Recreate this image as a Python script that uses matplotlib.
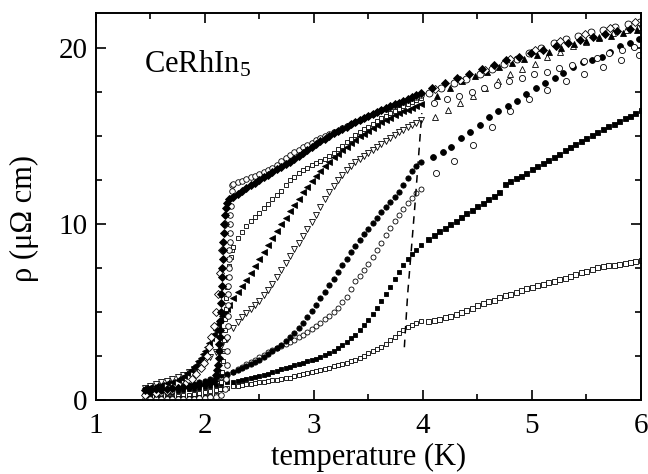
import matplotlib
matplotlib.use("Agg")
import matplotlib.pyplot as plt
from matplotlib.ticker import MultipleLocator

plt.rcParams["font.family"] = ["Liberation Serif", "DejaVu Serif"]
plt.rcParams["mathtext.default"] = "regular"

# shared temperature readings (K)
t_low = [1.45, 1.5, 1.55, 1.6, 1.65, 1.7, 1.75, 1.8, 1.85, 1.9, 1.95, 2.0, 2.05, 2.1, 2.15, 2.2]
t_mid = [2.26, 2.30, 2.34, 2.38, 2.42, 2.46, 2.50, 2.54, 2.58, 2.62, 2.66, 2.70, 2.74, 2.78, 2.82,
         2.86, 2.90, 2.94, 2.98, 3.02, 3.06, 3.10, 3.14, 3.18, 3.22, 3.26, 3.30, 3.34, 3.38, 3.42,
         3.46, 3.50, 3.54, 3.58, 3.62, 3.66, 3.70, 3.74, 3.78, 3.82, 3.86, 3.90, 3.94, 3.98]
t_hi = [4.05, 4.1, 4.15, 4.2, 4.25, 4.3, 4.35, 4.4, 4.45, 4.5, 4.55, 4.6, 4.65, 4.7, 4.75,
        4.8, 4.85, 4.9, 4.95, 5.0, 5.05, 5.1, 5.15, 5.2, 5.25, 5.3, 5.35, 5.4, 5.45, 5.5,
        5.55, 5.6, 5.65, 5.7, 5.75, 5.8, 5.85, 5.9, 5.95, 6.0]

# filled diamonds
r_fd_low = [0.55, 0.57, 0.6, 0.62, 0.65, 0.67, 0.7, 0.72, 0.75, 0.8, 0.85, 0.9, 0.95]
t_fd_jump = [2.08, 2.1, 2.11, 2.12, 2.125, 2.13, 2.133, 2.136, 2.139, 2.142, 2.145, 2.148, 2.151,
             2.154, 2.157, 2.16, 2.163, 2.166, 2.169, 2.172, 2.175, 2.18, 2.19, 2.2, 2.22]
r_fd_jump = [1.1, 1.4, 1.7, 2.0, 2.4, 2.8, 3.2, 3.6, 4.0, 4.5, 5.0, 5.5, 6.0,
             6.5, 7.0, 7.5, 8.0, 8.5, 9.0, 9.5, 10.0, 10.5, 10.9, 11.2, 11.4]
r_fd_mid = [11.55, 11.72, 11.88, 12.04, 12.2, 12.35, 12.5, 12.65, 12.8, 12.95, 13.1, 13.25, 13.4, 13.55, 13.7,
            13.87, 14.04, 14.21, 14.38, 14.55, 14.7, 14.85, 15.0, 15.15, 15.3, 15.42, 15.54, 15.66, 15.78, 15.9,
            16.02, 16.14, 16.26, 16.38, 16.5, 16.6, 16.7, 16.8, 16.9, 17.0, 17.11, 17.22, 17.33, 17.45]
t_fd_hi = [4.08, 4.2, 4.31, 4.42, 4.54, 4.65, 4.76, 4.88, 4.99, 5.1, 5.22, 5.33, 5.44, 5.56, 5.67, 5.78, 5.9]
r_fd_hi = [17.7, 18.0, 18.3, 18.55, 18.8, 19.05, 19.3, 19.5, 19.7, 19.9, 20.1, 20.3, 20.45, 20.6, 20.8, 20.95, 21.1]

# open circles, sharpest transition
r_oc_low = [0.05, 0.05, 0.05, 0.05, 0.05, 0.05, 0.05, 0.06, 0.07, 0.08, 0.1, 0.12, 0.15, 0.2, 0.3]
t_oc_jump = [2.18, 2.19, 2.2, 2.2, 2.205, 2.21, 2.21, 2.212, 2.214, 2.216, 2.218, 2.22, 2.222, 2.224,
             2.226, 2.228, 2.23, 2.232, 2.235, 2.24, 2.245, 2.25]
r_oc_jump = [0.6, 1.2, 2.0, 2.8, 3.6, 4.2, 4.8, 5.4, 6.0, 6.5, 7.0, 7.5, 8.0, 8.5,
             9.0, 9.5, 10.0, 10.5, 11.0, 11.5, 11.9, 12.2]
r_oc_mid = [12.3, 12.38, 12.47, 12.55, 12.65, 12.75, 12.85, 12.95, 13.05, 13.2, 13.38, 13.56, 13.74, 13.92, 14.07,
            14.21, 14.35, 14.49, 14.63, 14.76, 14.87, 14.98, 15.09, 15.2, 15.31, 15.43, 15.55, 15.67, 15.79, 15.9,
            16.01, 16.12, 16.23, 16.34, 16.45, 16.55, 16.65, 16.75, 16.85, 16.94, 17.04, 17.14, 17.24, 17.35]
t_oc_hi = [4.06, 4.17, 4.29, 4.4, 4.52, 4.63, 4.74, 4.86, 4.97, 5.08, 5.2, 5.31, 5.42, 5.54, 5.65, 5.76, 5.88, 5.99]
r_oc_hi = [17.45, 17.7, 18.0, 18.25, 18.5, 18.8, 19.1, 19.4, 19.7, 20.0, 20.3, 20.5, 20.7, 20.9, 21.05, 21.2, 21.35, 21.5]

# open diamonds
t_od = [1.45, 1.55, 1.65, 1.75, 1.82, 1.88, 1.92, 1.96, 1.99, 2.02, 2.04, 2.06, 2.08, 2.1, 2.12, 2.14, 2.16, 2.18]
r_od = [0.3, 0.4, 0.5, 0.7, 0.9, 1.2, 1.5, 1.8, 2.1, 2.5, 3.0, 3.6, 4.2, 5.0, 6.0, 7.2, 8.5, 10.0]
t_od_hi = [4.11, 4.34, 4.57, 4.8, 5.03, 5.26, 5.49, 5.72, 5.95]
r_od_hi = [17.65, 18.2, 18.75, 19.35, 19.9, 20.4, 20.8, 21.15, 21.5]

# open squares, upper curve
r_os_low = [0.1, 0.1, 0.1, 0.1, 0.1, 0.1, 0.12, 0.12, 0.13, 0.14, 0.15, 0.18, 0.22, 0.3]
t_os_jump = [2.14, 2.15, 2.16, 2.165, 2.17, 2.175, 2.18, 2.185, 2.19, 2.195, 2.2, 2.21, 2.22, 2.235, 2.25]
r_os_jump = [0.6, 1.0, 1.6, 2.2, 2.8, 3.4, 4.0, 4.6, 5.2, 5.8, 6.4, 7.0, 7.6, 8.1, 8.5]
r_os_mid = [8.7, 9.2, 9.55, 9.9, 10.15, 10.4, 10.65, 10.9, 11.15, 11.4, 11.65, 11.9, 12.2, 12.5, 12.7,
            12.88, 13.05, 13.2, 13.34, 13.47, 13.6, 13.72, 13.88, 14.05, 14.25, 14.45, 14.65, 14.85, 15.05, 15.22,
            15.38, 15.54, 15.7, 15.86, 16.0, 16.14, 16.28, 16.42, 16.56, 16.68, 16.8, 16.92, 17.04, 17.15]
t_os_hi = [4.1, 4.22, 4.33, 4.45, 4.56, 4.68, 4.79, 4.91, 5.02, 5.14, 5.25, 5.37, 5.48, 5.6, 5.71, 5.83, 5.94]
r_os_hi = [16.9, 17.1, 17.3, 17.5, 17.7, 17.9, 18.1, 18.3, 18.5, 18.65, 18.85, 19.05, 19.25, 19.45, 19.7, 19.9, 20.05]

# filled triangles
t_ft_low = [1.45, 1.5, 1.55, 1.6, 1.65, 1.7, 1.75, 1.78, 1.81, 1.84, 1.87, 1.9, 1.92, 1.94,
            1.96, 1.98, 2.0, 2.02, 2.04, 2.06, 2.08, 2.1, 2.12, 2.14, 2.16, 2.18, 2.2, 2.22]
r_ft_low = [0.7, 0.75, 0.8, 0.87, 0.95, 1.05, 1.15, 1.25, 1.38, 1.52, 1.68, 1.85, 2.0, 2.2,
            2.4, 2.6, 2.8, 3.0, 3.25, 3.5, 3.75, 4.0, 4.3, 4.55, 4.8, 5.0, 5.2, 5.4]
r_ft_mid = [5.8, 6.15, 6.5, 6.82, 7.2, 7.6, 8.0, 8.4, 8.8, 9.2, 9.6, 10.0, 10.36, 10.72, 11.08,
            11.44, 11.8, 12.12, 12.44, 12.74, 13.02, 13.3, 13.54, 13.78, 14.0, 14.2, 14.4, 14.6, 14.8, 14.98,
            15.14, 15.3, 15.46, 15.62, 15.77, 15.91, 16.05, 16.17, 16.29, 16.4, 16.5, 16.6, 16.7, 16.8]
t_ft_hi = [4.13, 4.25, 4.36, 4.48, 4.59, 4.7, 4.82, 4.93, 5.05, 5.16, 5.27, 5.39, 5.5, 5.62, 5.73, 5.84, 5.96]
r_ft_hi = [17.3, 17.7, 18.1, 18.4, 18.65, 18.9, 19.15, 19.4, 19.6, 19.8, 20.0, 20.2, 20.4, 20.55, 20.7, 20.85, 21.0]

# open triangles
r_ot_low = [0.7, 0.8, 0.9, 1.0, 1.1, 1.2, 1.32, 1.45, 1.6, 1.78, 1.98, 2.2, 2.45, 2.75, 3.05, 3.45]
r_ot_mid = [4.1, 4.45, 4.7, 4.95, 5.2, 5.4, 5.65, 5.95, 6.25, 6.6, 6.98, 7.38, 7.8, 8.2, 8.6,
            8.95, 9.3, 9.7, 10.1, 10.5, 10.95, 11.4, 11.8, 12.15, 12.5, 12.8, 13.05, 13.3, 13.5, 13.7,
            13.88, 14.05, 14.22, 14.4, 14.57, 14.73, 14.9, 15.05, 15.2, 15.35, 15.5, 15.63, 15.76, 15.9]
t_ot_hi = [4.11, 4.23, 4.34, 4.46, 4.57, 4.69, 4.8, 4.91, 5.03, 5.14, 5.26, 5.38, 5.5, 5.62, 5.74, 5.86, 5.97]
r_ot_hi = [16.1, 16.5, 16.9, 17.3, 17.7, 18.1, 18.5, 18.8, 19.1, 19.5, 19.8, 20.1, 20.35, 20.6, 20.85, 21.0, 21.2]

# filled circles
r_fc_low = [0.35, 0.4, 0.45, 0.5, 0.55, 0.62, 0.7, 0.77, 0.85, 0.93, 1.0, 1.1, 1.2, 1.3, 1.4, 1.5]
r_fc_mid = [1.62, 1.72, 1.82, 1.93, 2.04, 2.16, 2.3, 2.45, 2.6, 2.77, 2.95, 3.14, 3.35, 3.58, 3.83,
            4.1, 4.4, 4.72, 5.05, 5.4, 5.78, 6.15, 6.52, 6.9, 7.28, 7.65, 8.02, 8.4, 8.76, 9.1,
            9.42, 9.74, 10.05, 10.36, 10.66, 10.96, 11.25, 11.54, 11.82, 12.2, 12.6, 13.0, 13.3, 13.5]
t_fc_hi = [4.09, 4.18, 4.26, 4.35, 4.43, 4.52, 4.61, 4.69, 4.78, 4.86, 4.95, 5.04, 5.12, 5.21, 5.29,
           5.38, 5.47, 5.55, 5.64, 5.72, 5.81, 5.9, 5.98]
r_fc_hi = [13.8, 14.1, 14.4, 14.9, 15.2, 15.6, 16.1, 16.4, 16.7, 17.0, 17.4, 17.7, 18.0, 18.3, 18.6,
           18.9, 19.2, 19.3, 19.5, 19.8, 20.1, 20.3, 20.5]

# small open circles
r_sc_low = [0.3, 0.33, 0.37, 0.42, 0.47, 0.53, 0.6, 0.67, 0.75, 0.83, 0.92, 1.0, 1.1, 1.2, 1.3, 1.4]
r_sc_mid = [1.6, 1.75, 1.88, 2.02, 2.16, 2.3, 2.44, 2.58, 2.72, 2.85, 2.97, 3.08, 3.19, 3.3, 3.43,
            3.57, 3.72, 3.88, 4.04, 4.2, 4.38, 4.58, 4.8, 5.03, 5.25, 5.55, 5.88, 6.3, 6.75, 7.05,
            7.4, 7.75, 8.1, 8.5, 8.92, 9.35, 9.78, 10.15, 10.5, 10.85, 11.18, 11.48, 11.75, 12.0]
t_sc_hi = [4.12, 4.29, 4.46, 4.63, 4.8, 4.97, 5.14, 5.31, 5.48, 5.65, 5.82, 5.98]
r_sc_hi = [12.9, 13.6, 14.5, 15.5, 16.4, 17.1, 17.6, 18.1, 18.55, 18.9, 19.3, 19.6]

# filled squares
r_fs_low = [0.3, 0.33, 0.36, 0.4, 0.43, 0.47, 0.5, 0.55, 0.6, 0.65, 0.7, 0.75, 0.8, 0.85, 0.92, 1.0]
r_fs_mid = [1.05, 1.1, 1.15, 1.2, 1.25, 1.3, 1.35, 1.42, 1.5, 1.58, 1.66, 1.75, 1.83, 1.9, 1.98,
            2.05, 2.12, 2.2, 2.28, 2.36, 2.45, 2.55, 2.67, 2.8, 2.95, 3.12, 3.3, 3.5, 3.72, 3.97,
            4.25, 4.55, 4.88, 5.25, 5.65, 6.05, 6.45, 6.85, 7.25, 7.65, 8.0, 8.3, 8.55, 8.8]
r_fs_hi = [9.15, 9.35, 9.6, 9.8, 10.0, 10.2, 10.4, 10.6, 10.8, 11.0, 11.2, 11.4, 11.6, 11.8, 12.3,
           12.45, 12.6, 12.75, 12.9, 13.1, 13.3, 13.45, 13.65, 13.8, 14.0, 14.2, 14.35, 14.55, 14.7, 14.9,
           15.05, 15.25, 15.4, 15.55, 15.7, 15.85, 16.0, 16.15, 16.3, 16.45]

# open squares, lowest curve
r_ls_low = [0.05, 0.07, 0.09, 0.12, 0.15, 0.18, 0.22, 0.26, 0.3, 0.35, 0.4, 0.45, 0.5, 0.55, 0.62, 0.7]
r_ls_mid = [0.78, 0.82, 0.86, 0.9, 0.94, 0.97, 1.0, 1.04, 1.08, 1.12, 1.16, 1.2, 1.24, 1.28, 1.34,
            1.4, 1.46, 1.52, 1.58, 1.64, 1.7, 1.77, 1.84, 1.91, 1.98, 2.05, 2.12, 2.2, 2.28, 2.4,
            2.52, 2.65, 2.78, 2.9, 3.02, 3.2, 3.4, 3.6, 3.8, 4.0, 4.15, 4.28, 4.4, 4.5]
r_ls_hi = [4.5, 4.55, 4.6, 4.7, 4.8, 4.9, 5.0, 5.1, 5.25, 5.4, 5.5, 5.6, 5.7, 5.85, 5.95,
           6.05, 6.15, 6.25, 6.35, 6.45, 6.55, 6.62, 6.7, 6.78, 6.85, 6.95, 7.05, 7.15, 7.25, 7.35,
           7.45, 7.55, 7.6, 7.65, 7.7, 7.75, 7.8, 7.85, 7.9, 7.95]

# dashed boundary
t_dash = [3.83, 3.86, 3.9, 3.93, 3.96, 3.99]
r_dash = [3.0, 6.0, 9.0, 11.3, 13.8, 16.3]

fig = plt.figure(figsize=(6.48, 4.74), dpi=100)
ax = fig.add_axes([0.148, 0.156, 0.841, 0.817])


def pts(t, r, marker, filled, ms=3.4, mew=0.6):
    ax.plot(t, r, linestyle="none", marker=marker, markersize=ms,
            markerfacecolor="black" if filled else "white",
            markeredgecolor="black", markeredgewidth=mew)


pts(t_low + t_mid, r_ls_low + r_ls_mid, "s", False, 3.2)
pts(t_hi, r_ls_hi, "s", False, 3.6)
pts(t_low + t_mid, r_fs_low + r_fs_mid, "s", True, 3.4)
pts(t_hi, r_fs_hi, "s", True, 3.6)
pts(t_low + t_mid, r_sc_low + r_sc_mid, "o", False, 3.6)
pts(t_sc_hi, r_sc_hi, "o", False, 4.4)
pts(t_low + t_mid, r_fc_low + r_fc_mid, "o", True, 3.8)
pts(t_fc_hi, r_fc_hi, "o", True, 4.2)
pts(t_low + t_mid, r_ot_low + r_ot_mid, "v", False, 4.0)
pts(t_ot_hi, r_ot_hi, "^", False, 4.6)
pts(t_ft_low + t_mid, r_ft_low + r_ft_mid, "<", True, 5.0)
pts(t_ft_hi, r_ft_hi, "^", True, 4.4)
pts(t_low[:14] + t_os_jump + t_mid, r_os_low + r_os_jump + r_os_mid, "s", False, 3.3)
pts(t_os_hi, r_os_hi, "o", False, 4.4)
pts(t_low[:15] + t_oc_jump + t_mid, r_oc_low + r_oc_jump + r_oc_mid, "o", False, 4.0)
pts(t_oc_hi, r_oc_hi, "o", False, 5.0)
pts(t_od, r_od, "D", False, 3.8)
pts(t_od_hi, r_od_hi, "D", False, 4.4)
pts(t_low[:13] + t_fd_jump + t_mid, r_fd_low + r_fd_jump + r_fd_mid, "D", True, 3.8)
pts(t_fd_hi, r_fd_hi, "D", True, 4.0)

ax.plot(t_dash, r_dash, color="black", linestyle=(0, (5, 4)), linewidth=1.1)

ax.text(1.44, 18.6, "CeRhIn$_5$", fontsize=22)

ax.set_xlim(1, 6)
ax.set_ylim(0, 22)
ax.xaxis.set_major_locator(MultipleLocator(1))
ax.xaxis.set_minor_locator(MultipleLocator(0.5))
ax.yaxis.set_major_locator(MultipleLocator(10))
ax.yaxis.set_minor_locator(MultipleLocator(2.5))
ax.tick_params(which="both", direction="in", top=True, right=True, width=1.2, labelsize=21)
ax.tick_params(which="major", length=7)
ax.tick_params(which="minor", length=4)
ax.tick_params(axis="x", pad=9)
ax.tick_params(axis="y", pad=6)
for s in ax.spines.values():
    s.set_linewidth(1.4)

ax.set_xlabel("temperature (K)", fontsize=22, labelpad=3)
ax.set_ylabel("ρ (μΩ cm)", fontsize=22)
ax.yaxis.set_label_coords(-0.105, 0.47)

fig.savefig("out.png", dpi=100)
